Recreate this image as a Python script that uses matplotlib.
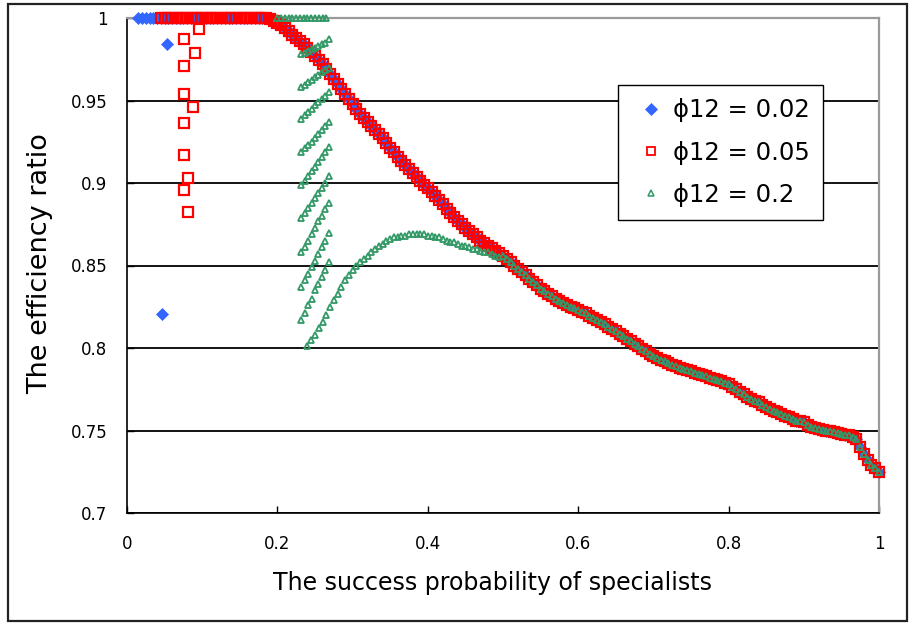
import matplotlib
matplotlib.use("Agg")
import matplotlib.pyplot as plt
from matplotlib.lines import Line2D
from matplotlib.patches import Rectangle

# ---------------- data ----------------
# common descending curve shared by the three series
main_x = [
    0.180, 0.185, 0.190, 0.195, 0.200, 0.205, 0.210, 0.215, 0.220, 0.225,
    0.230, 0.235, 0.240, 0.245, 0.250, 0.255, 0.260, 0.265, 0.270, 0.275,
    0.280, 0.285, 0.290, 0.295, 0.300, 0.305, 0.310, 0.315, 0.320, 0.325,
    0.330, 0.335, 0.340, 0.345, 0.350, 0.355, 0.360, 0.365, 0.370, 0.375,
    0.380, 0.385, 0.390, 0.395, 0.400, 0.405, 0.410, 0.415, 0.420, 0.425,
    0.430, 0.435, 0.440, 0.445, 0.450, 0.455, 0.460, 0.465, 0.470, 0.475,
    0.480, 0.485, 0.490, 0.495, 0.500, 0.505, 0.510, 0.515, 0.520, 0.525,
    0.530, 0.535, 0.540, 0.545, 0.550, 0.555, 0.560, 0.565, 0.570, 0.575,
    0.580, 0.585, 0.590, 0.595, 0.600, 0.605, 0.610, 0.615, 0.620, 0.625,
    0.630, 0.635, 0.640, 0.645, 0.650, 0.655, 0.660, 0.665, 0.670, 0.675,
    0.680, 0.685, 0.690, 0.695, 0.700, 0.705, 0.710, 0.715, 0.720, 0.725,
    0.730, 0.735, 0.740, 0.745, 0.750, 0.755, 0.760, 0.765, 0.770, 0.775,
    0.780, 0.785, 0.790, 0.795, 0.800, 0.805, 0.810, 0.815, 0.820, 0.825,
    0.830, 0.835, 0.840, 0.845, 0.850, 0.855, 0.860, 0.865, 0.870, 0.875,
    0.880, 0.885, 0.890, 0.895, 0.900, 0.905, 0.910, 0.915, 0.920, 0.925,
    0.930, 0.935, 0.940, 0.945, 0.950, 0.955, 0.960, 0.965, 0.970, 0.975,
    0.980, 0.985, 0.990, 0.995, 1.000,
]
main_y = [
    1.000, 1.000, 0.9995, 0.998, 0.997, 0.9955, 0.994, 0.992, 0.990, 0.988,
    0.986, 0.984, 0.982, 0.9795, 0.977, 0.9745, 0.972, 0.969, 0.966, 0.963,
    0.960, 0.957, 0.954, 0.951, 0.948, 0.945, 0.942, 0.9395, 0.937, 0.9345,
    0.932, 0.9295, 0.927, 0.924, 0.921, 0.9185, 0.916, 0.9135, 0.911, 0.9085,
    0.906, 0.9035, 0.901, 0.899, 0.897, 0.8945, 0.892, 0.8895, 0.887, 0.8845,
    0.882, 0.8795, 0.877, 0.875, 0.873, 0.871, 0.869, 0.867, 0.865, 0.8635,
    0.862, 0.8605, 0.859, 0.8575, 0.856, 0.854, 0.852, 0.850, 0.848, 0.846,
    0.844, 0.842, 0.840, 0.838, 0.836, 0.8345, 0.833, 0.8315, 0.830, 0.8285,
    0.827, 0.826, 0.825, 0.824, 0.823, 0.822, 0.821, 0.8195, 0.818, 0.817,
    0.816, 0.8145, 0.813, 0.8115, 0.810, 0.8085, 0.807, 0.8055, 0.804, 0.8025,
    0.801, 0.7995, 0.798, 0.7965, 0.795, 0.794, 0.793, 0.792, 0.791, 0.790,
    0.789, 0.788, 0.787, 0.7865, 0.786, 0.785, 0.784, 0.7835, 0.783, 0.782,
    0.781, 0.7805, 0.780, 0.779, 0.778, 0.7765, 0.775, 0.7735, 0.772, 0.7705,
    0.769, 0.768, 0.767, 0.7655, 0.764, 0.763, 0.762, 0.761, 0.760, 0.759,
    0.758, 0.757, 0.756, 0.7555, 0.755, 0.7535, 0.752, 0.7515, 0.751, 0.7505,
    0.750, 0.7495, 0.749, 0.7485, 0.748, 0.7475, 0.747, 0.746, 0.745, 0.740,
    0.736, 0.732, 0.729, 0.727, 0.725,
]

# phi12 = 0.02 : flat part at 1 and two outliers
blue_top_x = [0.015, 0.020, 0.025, 0.030, 0.035, 0.040, 0.045, 0.050, 0.055,
              0.060, 0.065, 0.070, 0.075, 0.080, 0.085, 0.090, 0.095, 0.100,
              0.105, 0.110, 0.115, 0.120, 0.125, 0.130, 0.135, 0.140, 0.145,
              0.150, 0.155, 0.160, 0.165, 0.170, 0.175]
blue_out_x = [0.053, 0.047]
blue_out_y = [0.984, 0.8206]

# phi12 = 0.05 : flat part at 1 and scattered outliers
red_top_x = [0.045, 0.050, 0.055, 0.060, 0.065, 0.070, 0.075, 0.080, 0.085,
             0.090, 0.095, 0.100, 0.105, 0.110, 0.115, 0.120, 0.125, 0.130,
             0.135, 0.140, 0.145, 0.150, 0.155, 0.160, 0.165, 0.170, 0.175]
red_out_x = [0.0957, 0.0758, 0.0904, 0.0758, 0.0758, 0.0878, 0.0758, 0.0758,
             0.0811, 0.0758, 0.0811]
red_out_y = [0.9933, 0.9873, 0.9788, 0.9709, 0.9539, 0.9461, 0.9364, 0.9170,
             0.9030, 0.8958, 0.8824]

# phi12 = 0.2 : flat part, saw-tooth chains, hump
green_top_x = [0.200, 0.205, 0.210, 0.215, 0.220, 0.225, 0.230, 0.235, 0.240,
               0.245, 0.250, 0.255, 0.260, 0.265]
saw_x = [0.232, 0.2365, 0.241, 0.2455, 0.250, 0.2545, 0.259, 0.2635, 0.268]
saw_a = [0.978, 0.979, 0.980, 0.981, 0.982, 0.983, 0.984, 0.985, 0.987]
saw_b = [0.958, 0.9595, 0.961, 0.9625, 0.964, 0.9655, 0.967, 0.9685, 0.970]
saw_c = [0.939, 0.941, 0.943, 0.945, 0.947, 0.949, 0.951, 0.953, 0.955]
saw_d = [0.919, 0.921, 0.923, 0.925, 0.9275, 0.930, 0.932, 0.9345, 0.937]
saw_e = [0.899, 0.9015, 0.904, 0.907, 0.910, 0.913, 0.916, 0.919, 0.922]
saw_f = [0.879, 0.882, 0.885, 0.888, 0.891, 0.894, 0.897, 0.900, 0.904]
saw_g = [0.858, 0.8615, 0.865, 0.869, 0.873, 0.877, 0.880, 0.884, 0.888]
saw_h = [0.837, 0.841, 0.845, 0.849, 0.853, 0.857, 0.861, 0.865, 0.870]
saw_i = [0.817, 0.821, 0.826, 0.830, 0.835, 0.839, 0.843, 0.847, 0.852]
hump_x = [0.240, 0.245, 0.250, 0.255, 0.260, 0.265, 0.270, 0.275, 0.280,
          0.285, 0.290, 0.295, 0.300, 0.305, 0.310, 0.315, 0.320, 0.325,
          0.330, 0.335, 0.340, 0.345, 0.350, 0.355, 0.360, 0.365, 0.370,
          0.375, 0.380, 0.385, 0.390, 0.395, 0.400, 0.405, 0.410, 0.415,
          0.420, 0.425, 0.430, 0.435, 0.440, 0.445, 0.450, 0.455, 0.460,
          0.465, 0.470, 0.475, 0.480, 0.485, 0.490, 0.495]
hump_y = [0.801, 0.805, 0.808, 0.812, 0.816, 0.820, 0.825, 0.829, 0.833,
          0.837, 0.841, 0.844, 0.847, 0.850, 0.852, 0.854, 0.856, 0.858,
          0.860, 0.862, 0.863, 0.865, 0.866, 0.867, 0.867, 0.868, 0.868,
          0.869, 0.869, 0.869, 0.869, 0.869, 0.868, 0.868, 0.867, 0.867,
          0.866, 0.865, 0.864, 0.864, 0.863, 0.862, 0.862, 0.861, 0.860,
          0.860, 0.859, 0.858, 0.858, 0.857, 0.856, 0.855]
green_main_start = 0.50

labels = ["\u03d512 = 0.02", "\u03d512 = 0.05", "\u03d512 = 0.2"]
x_ticks = [0, 0.2, 0.4, 0.6, 0.8, 1.0]
x_tick_labels = ["0", "0.2", "0.4", "0.6", "0.8", "1"]
y_ticks = [0.7, 0.75, 0.8, 0.85, 0.9, 0.95, 1.0]
y_tick_labels = ["0.7", "0.75", "0.8", "0.85", "0.9", "0.95", "1"]

# ---------------- assemble series ----------------
blue_x = blue_top_x + blue_out_x + main_x
blue_y = [1.0] * len(blue_top_x) + blue_out_y + main_y

red_x = red_top_x + red_out_x + main_x
red_y = [1.0] * len(red_top_x) + red_out_y + main_y

green_x = list(green_top_x)
green_y = [1.0] * len(green_top_x)
for seg in (saw_a, saw_b, saw_c, saw_d, saw_e, saw_f, saw_g, saw_h, saw_i):
    green_x += saw_x
    green_y += seg
green_x += hump_x
green_y += hump_y
for x, y in zip(main_x, main_y):
    if x >= green_main_start:
        green_x.append(x)
        green_y.append(y)

BLUE = "#3366FF"
RED = "#FF0000"
GREEN = "#339966"

plt.rcParams["font.family"] = ["DejaVu Sans"]

fig = plt.figure(figsize=(9.1, 6.24), dpi=100)
W, H = 910.0, 624.0
ax = fig.add_axes([127 / W, 1 - 513 / H, 752 / W, 495 / H])

ax.plot(blue_x, blue_y, ls="none", marker="D", ms=6.0, mfc=BLUE, mec=BLUE,
        mew=0.5, clip_on=False, zorder=3)
ax.plot(red_x, red_y, ls="none", marker="s", ms=6.8, mfc="none", mec=RED,
        mew=1.6, clip_on=False, zorder=4)
ax.plot(green_x, green_y, ls="none", marker="^", ms=5.0, mfc="none", mec=GREEN,
        mew=1.3, clip_on=False, zorder=5)

ax.set_xlim(0, 1)
ax.set_ylim(0.7, 1.0)
ax.set_xticks(x_ticks)
ax.set_xticklabels(x_tick_labels)
ax.set_yticks(y_ticks)
ax.set_yticklabels(y_tick_labels)
ax.tick_params(axis="both", direction="in", length=5, width=1, labelsize=12,
               colors="black")
ax.tick_params(axis="x", pad=16)
ax.tick_params(axis="y", pad=14)

ax.set_axisbelow(True)
ax.yaxis.grid(True, color="black", lw=1.3)
for s in ("left", "bottom"):
    ax.spines[s].set_color("black")
    ax.spines[s].set_linewidth(1.2)
for s in ("top", "right"):
    ax.spines[s].set_color("#9a9a9a")
    ax.spines[s].set_linewidth(1.6)

fig.text(493 / W, 1 - 583 / H, "The success probability of specialists",
         ha="center", va="center", fontsize=17)
fig.text(40 / W, 1 - 264 / H, "The efficiency ratio", ha="center",
         va="center", rotation=90, fontsize=19.5)

handles = [
    Line2D([], [], ls="none", marker="D", ms=6.0, mfc=BLUE, mec=BLUE, mew=0.5),
    Line2D([], [], ls="none", marker="s", ms=6.0, mfc="none", mec=RED, mew=1.3),
    Line2D([], [], ls="none", marker="^", ms=4.6, mfc="none", mec=GREEN, mew=1.1),
]
leg = ax.legend(handles, labels, loc="upper left",
                bbox_to_anchor=((618 - 127) / 752, (513 - 85) / 495),
                fontsize=17.5, frameon=True, fancybox=False, framealpha=1,
                edgecolor="black", borderpad=0.55, labelspacing=0.75,
                handlelength=1.6, handletextpad=0.1, borderaxespad=0,
                numpoints=1)
leg.get_frame().set_linewidth(1.0)
leg.set_zorder(10)

fig.patches.append(Rectangle((8 / W, 3 / H), 899 / W, 617 / H,
                             transform=fig.transFigure, fill=False,
                             edgecolor="#222222", lw=1.6))

fig.savefig("out.png", dpi=100)
